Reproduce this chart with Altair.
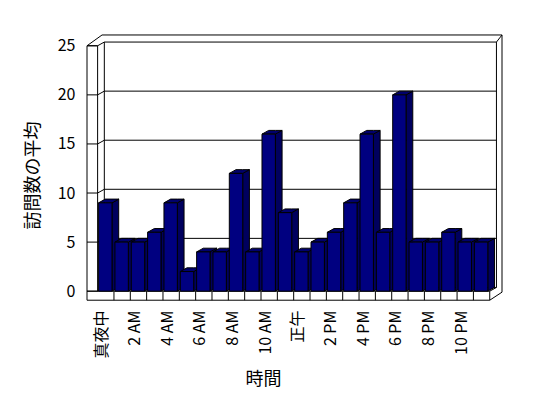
import altair as alt
import pandas as pd

# ---- data ----
hours = ["真夜中", "1 AM", "2 AM", "3 AM", "4 AM", "5 AM", "6 AM", "7 AM", "8 AM", "9 AM",
         "10 AM", "11 AM", "正午", "1 PM", "2 PM", "3 PM", "4 PM", "5 PM", "6 PM", "7 PM",
         "8 PM", "9 PM", "10 PM", "11 PM"]
visits = [9, 5, 5, 6, 9, 2, 4, 4, 12, 4, 16, 8, 4, 5, 6, 9, 16, 6, 20, 5, 5, 6, 5, 5]
tick_labels = ["真夜中", "2 AM", "4 AM", "6 AM", "8 AM", "10 AM", "正午",
               "2 PM", "4 PM", "6 PM", "8 PM", "10 PM"]
y_ticks = [0, 5, 10, 15, 20, 25]

# ---- 3D style constants (in scale units) ----
DX, DY = 0.41, 0.38          # depth of the bars / walls
BAR_L, BAR_R = 0.06, 0.88    # front face of a bar inside its hour slot
WALL = -0.65                 # outer face of the left wall slab
FLOOR = -0.92                # bottom of the floor slab
N = len(visits)
XMAX = N + 0.75
TOP = 26.1
FONT = "Noto Sans CJK JP"

# bar faces
fronts, sides, tops = [], [], []
for i, v in enumerate(visits):
    x0, x1 = i + BAR_L, i + BAR_R
    fronts.append({"id": i, "hour": hours[i], "x": x0, "x2": x1, "y": v, "y2": 0})
    sides += [{"id": i, "x": x1, "y": v, "y2": 0},
              {"id": i, "x": x1 + DX, "y": v + DY, "y2": DY}]
    tops += [{"id": i, "x": x0, "y": v, "y2": v},
             {"id": i, "x": x0 + DX, "y": v + DY, "y2": v},
             {"id": i, "x": x1, "y": v + DY, "y2": v},
             {"id": i, "x": x1 + DX, "y": v + DY, "y2": v + DY}]

# frame (walls, floor, gridlines)
segs = []
def seg(a, b, c, d):
    segs.append({"x": a, "y": b, "x2": c, "y2": d})

seg(WALL, FLOOR, WALL, 25)
seg(0, 0, 0, 25)
seg(WALL, 25, 0, 25)
seg(WALL, 25, 0.27, TOP)
seg(DX, DY, DX, 25 + DY)
seg(0.27, TOP, XMAX, TOP)
seg(N + DX, DY, N + DX, 25 + DY)
seg(N + DX, 25 + DY, XMAX, TOP)
seg(XMAX, TOP, XMAX, -0.1)
seg(N, FLOOR, XMAX, -0.1)
seg(WALL, 0, N, 0)
seg(WALL, FLOOR, N, FLOOR)
seg(N, FLOOR, N, 0)
seg(N, 0, N + DX, DY)
for v in y_ticks:
    seg(DX, v + DY, N + DX, v + DY)
    seg(0, v, DX, v + DY)
    seg(WALL, v, 0, v)
for k in range(1, N):
    seg(k, FLOOR, k, 0)

label_expr = "[" + ",".join("'%s'" % t for t in tick_labels) + "][floor(datum.value / 2)]"

X = alt.X("x:Q", title="時間",
          scale=alt.Scale(domain=[WALL, XMAX], nice=False, zero=False),
          axis=alt.Axis(values=[2 * k + 0.5 for k in range(len(tick_labels))],
                        labelExpr=label_expr, labelAngle=270, labelAlign="right",
                        labelBaseline="middle", labelPadding=9, labelOffset=-4,
                        labelOverlap=False, labelFlush=False,
                        labelFont=FONT, labelFontSize=16, labelColor="black",
                        labelFontWeight="normal",
                        titleFont=FONT, titleFontSize=18, titleColor="black",
                        titleFontWeight="normal",
                        ticks=False, domain=False, grid=False,
                        titleX=176, titleY=78, titleBaseline="middle",
                        titleAnchor="start", titleAlign="center"))
Y = alt.Y("y:Q", title="訪問数の平均",
          scale=alt.Scale(domain=[-1, TOP + 0.1], nice=False, zero=False),
          axis=alt.Axis(values=y_ticks, labelPadding=12, ticks=False, domain=False,
                        labelFont=FONT, labelFontSize=16, labelColor="black",
                        labelFontWeight="normal",
                        titleFont=FONT, titleFontSize=18, titleColor="black",
                        titleFontWeight="normal",
                        grid=False, titleX=-54, titleY=141, titleBaseline="middle",
                        titleAlign="center", titleAngle=270, titleAnchor="start"))

frame = alt.Chart(pd.DataFrame(segs)).mark_rule(color="black", strokeWidth=1).encode(
    x=X, y=Y, x2="x2:Q", y2="y2:Q")
side_l = alt.Chart(pd.DataFrame(sides)).mark_area(
    color="#00005E", stroke="black", strokeWidth=1, opacity=1).encode(
    x=X, y=Y, y2="y2:Q", detail="id:N")
top_l = alt.Chart(pd.DataFrame(tops)).mark_area(
    color="#00006C", stroke="black", strokeWidth=1, opacity=1).encode(
    x=X, y=Y, y2="y2:Q", detail="id:N")
front_l = alt.Chart(pd.DataFrame(fronts)).mark_rect(
    color="#000080", stroke="black", strokeWidth=1).encode(
    x=X, x2="x2:Q", y=Y, y2="y2:Q")

chart = alt.layer(frame, side_l, top_l, front_l).properties(
    width=415, height=267,
    padding={"left": 79, "top": 26, "right": 30, "bottom": 90},
    autosize=alt.AutoSizeParams(type="none"),
    background="white",
).configure_view(stroke=None)

chart.save("out.html", embed_options={"renderer": "svg", "actions": False})
